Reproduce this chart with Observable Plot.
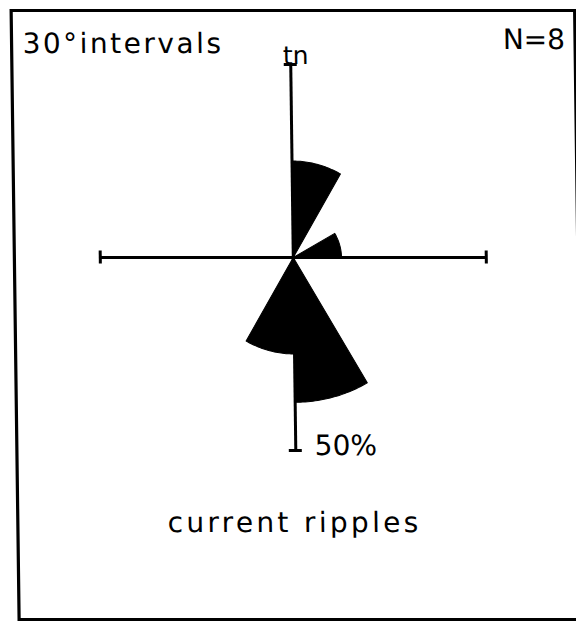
<!DOCTYPE html>
<html>
<head>
<meta charset="utf-8">
<script src="https://cdn.jsdelivr.net/npm/d3@7"></script>
<script src="https://cdn.jsdelivr.net/npm/@observablehq/plot@0.6"></script>
<style>
  html, body { margin: 0; padding: 0; background: #fff; }
  /* drafted sheet: a faint shear of the whole drawing */
  #chart svg { display: block; transform: skewX(0.75deg); transform-origin: 0 0; overflow: visible; }
</style>
</head>
<body>
<div id="chart"></div>
<script>
// Rose diagram of current-ripple orientations, 30° classes clockwise from true north
const binStarts = [0, 30, 60, 90, 120, 150, 180, 210, 240, 270, 300, 330];
const binCounts = [2, 0, 1, 0, 0, 3, 2, 0, 0, 0, 0, 0];
const sampleSize = 8;
const scaleMax = 50; // percent reached at the end of each axis arm
const titleLabel = "30°intervals";
const countLabel = "N=8";
const northLabel = "tn";
const scaleLabel = "50%";
const captionLabel = "current ripples";

const binWidth = 30;
const rad = Math.PI / 180;

// One closed wedge per non-empty class: centre, arc at the class percentage, centre
const wedges = binStarts.flatMap((start, i) => {
  const pct = binCounts[i] / sampleSize * 100;
  if (!pct) return [];
  const pts = [{bin: start, r: 0, a: start}];
  for (let a = start; a <= start + binWidth; a += 1) pts.push({bin: start, r: pct, a});
  pts.push({bin: start, r: 0, a: start + binWidth});
  return pts.map(p => ({bin: p.bin, x: p.r * Math.sin(p.a * rad), y: p.r * Math.cos(p.a * rad)}));
});

const W = 576, H = 621;
const cx = 289.4, cy = 257, R = 193;   // pixel centre and arm length
const cap = 6.5 / R * scaleMax;         // half-length of the end bars, in percent units
const font = "'DejaVu Sans', 'Liberation Sans', sans-serif";

const plot = Plot.plot({
  width: W,
  height: H,
  marginTop: 10,
  marginLeft: 10.5,
  marginRight: 2,
  marginBottom: 2,
  x: {domain: [-scaleMax, scaleMax], range: [cx - R, cx + R], axis: null},
  y: {domain: [-scaleMax, scaleMax], range: [cy + R, cy - R], axis: null},
  style: {fontFamily: font, background: "white", color: "black"},
  marks: [
    Plot.frame({stroke: "black", strokeWidth: 3.2}),
    Plot.line(wedges, {x: "x", y: "y", z: "bin", fill: "black", stroke: "black", strokeWidth: 1, curve: "linear-closed"}),
    Plot.ruleY([0], {x1: -scaleMax, x2: scaleMax, strokeWidth: 3}),
    Plot.ruleX([0], {y1: -scaleMax, y2: scaleMax, strokeWidth: 3}),
    Plot.ruleX([-scaleMax, scaleMax], {y1: -cap, y2: cap, strokeWidth: 3}),
    Plot.ruleY([-scaleMax, scaleMax], {x1: -cap, x2: cap, strokeWidth: 3}),
    Plot.text([northLabel], {x: 0, y: scaleMax, text: d => d, dx: 5, dy: -1, lineAnchor: "bottom", fontSize: 25}),
    Plot.text([scaleLabel], {x: 0, y: -scaleMax, text: d => d, textAnchor: "start", dx: 19, dy: 4, lineAnchor: "bottom", fontSize: 28}),
    Plot.text([titleLabel], {frameAnchor: "top-left", text: d => d, textAnchor: "start", dx: 11, dy: 42, lineAnchor: "bottom", fontSize: 28}),
    Plot.text([countLabel], {frameAnchor: "top-right", text: d => d, textAnchor: "end", dx: -10, dy: 38, lineAnchor: "bottom", fontSize: 28}),
    Plot.text([captionLabel], {frameAnchor: "bottom", text: d => d, dx: -5, dy: -88, lineAnchor: "bottom", fontSize: 28})
  ]
});

// Lettering is spaced out like stencil text
const spacing = {[titleLabel]: "2.5px", [captionLabel]: "3.3px"};
d3.select(plot).selectAll("text").each(function () {
  const s = spacing[this.textContent];
  if (s) this.setAttribute("letter-spacing", s);
});

document.getElementById("chart").append(plot);
</script>
</body>
</html>
